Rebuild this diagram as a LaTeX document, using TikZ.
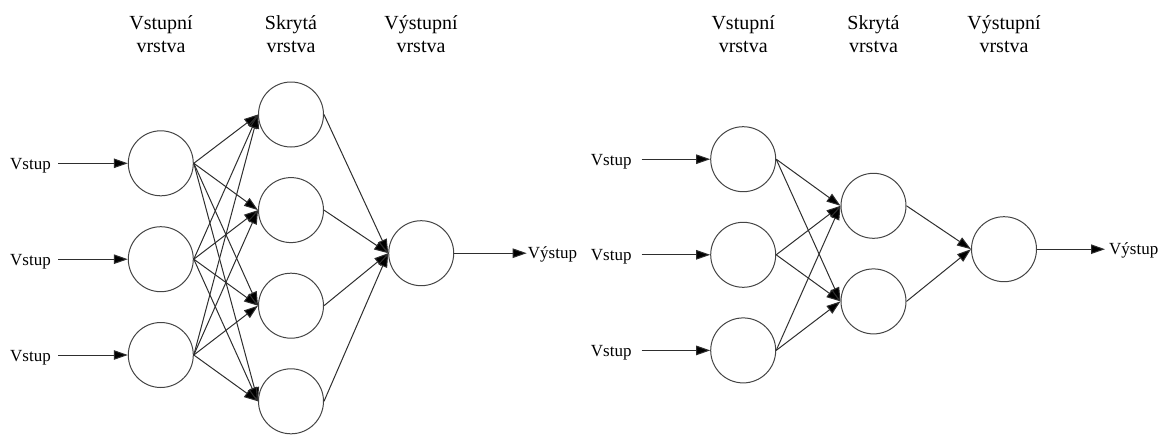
\documentclass[tikz,border=0pt]{standalone}
\usepackage{fontspec}
\setmainfont{Liberation Serif}
\usetikzlibrary{arrows.meta}
\definecolor{ln}{HTML}{2E2E2E}
\definecolor{cl}{HTML}{444444}
\tikzset{
  neuron/.style={circle, draw=cl, line width=1pt, minimum size=65pt, inner sep=0pt},
  hdr/.style={font=\fontsize{20}{23.4}\selectfont, align=center, inner sep=0pt},
  lab/.style={font=\fontsize{17}{20}\selectfont, inner sep=0pt},
  arr/.style={draw=ln, line width=1pt, -{Triangle[length=14pt,width=9.5pt,fill=black]}},
}
\begin{document}
\begin{tikzpicture}[x=1pt,y=-1pt]
\useasboundingbox (0,0) rectangle (1160,434);
% ---------- left network ----------
\node[hdr, anchor=base] (lh1) at (161,52.7) {Vstupní\\vrstva};
\node[hdr, anchor=base] (lh2) at (291,52.7) {Skrytá\\vrstva};
\node[hdr, anchor=base] (lh3) at (421,52.7) {Výstupní\\vrstva};

\node[neuron] (i1) at (160.8,163.3) {};
\node[neuron] (i2) at (160.8,259.2) {};
\node[neuron] (i3) at (160.8,355.0) {};
\node[neuron] (h1) at (291,114.5) {};
\node[neuron] (h2) at (291,210.1) {};
\node[neuron] (h3) at (291,305.7) {};
\node[neuron] (h4) at (291,401.3) {};
\node[neuron] (o) at (421.2,253.2) {};

\node[lab, anchor=base east] (v1) at (51,169.3) {Vstup};
\node[lab, anchor=base east] (v2) at (51,265.2) {Vstup};
\node[lab, anchor=base east] (v3) at (51,361.0) {Vstup};
\node[lab, anchor=base west] (vy) at (527.7,258.3) {Výstup};

\draw[arr] ([xshift=7.3pt]v1.east |- i1.west) -- (i1.west);
\draw[arr] ([xshift=7.3pt]v2.east |- i2.west) -- (i2.west);
\draw[arr] ([xshift=7.3pt]v3.east |- i3.west) -- (i3.west);
\foreach \i in {1,2,3}{
  \foreach \h in {1,2,3,4}{
    \draw[arr] (i\i.east) -- (h\h.west);
  }
}
\foreach \h in {1,2,3,4}{
  \draw[arr] (h\h.east) -- (o.west);
}
\draw[arr] (o.east) -- ([xshift=-1pt]vy.west |- o.east);

% ---------- right network ----------
\node[hdr, anchor=base] (rh1t) at (743.2,52.7) {Vstupní\\vrstva};
\node[hdr, anchor=base] (rh2t) at (873.5,52.7) {Skrytá\\vrstva};
\node[hdr, anchor=base] (rh3t) at (1004,52.7) {Výstupní\\vrstva};

\node[neuron] (ri1) at (743.2,159.2) {};
\node[neuron] (ri2) at (743.2,254.8) {};
\node[neuron] (ri3) at (743.2,350.4) {};
\node[neuron] (rh1) at (873.5,205.8) {};
\node[neuron] (rh2) at (873.5,301.4) {};
\node[neuron] (ro) at (1004,249.2) {};

\node[lab, anchor=base east] (rv1) at (631.7,165.2) {Vstup};
\node[lab, anchor=base east] (rv2) at (631.7,260.8) {Vstup};
\node[lab, anchor=base east] (rv3) at (631.7,356.4) {Vstup};
\node[lab, anchor=base west] (rvy) at (1109,254.3) {Výstup};

\draw[arr] ([xshift=10pt]rv1.east |- ri1.west) -- (ri1.west);
\draw[arr] ([xshift=10pt]rv2.east |- ri2.west) -- (ri2.west);
\draw[arr] ([xshift=10pt]rv3.east |- ri3.west) -- (ri3.west);
\foreach \i in {1,2,3}{
  \foreach \h in {1,2}{
    \draw[arr] (ri\i.east) -- (rh\h.west);
  }
}
\foreach \h in {1,2}{
  \draw[arr] (rh\h.east) -- (ro.west);
}
\draw[arr] (ro.east) -- ([xshift=-4pt]rvy.west |- ro.east);
\end{tikzpicture}
\end{document}
